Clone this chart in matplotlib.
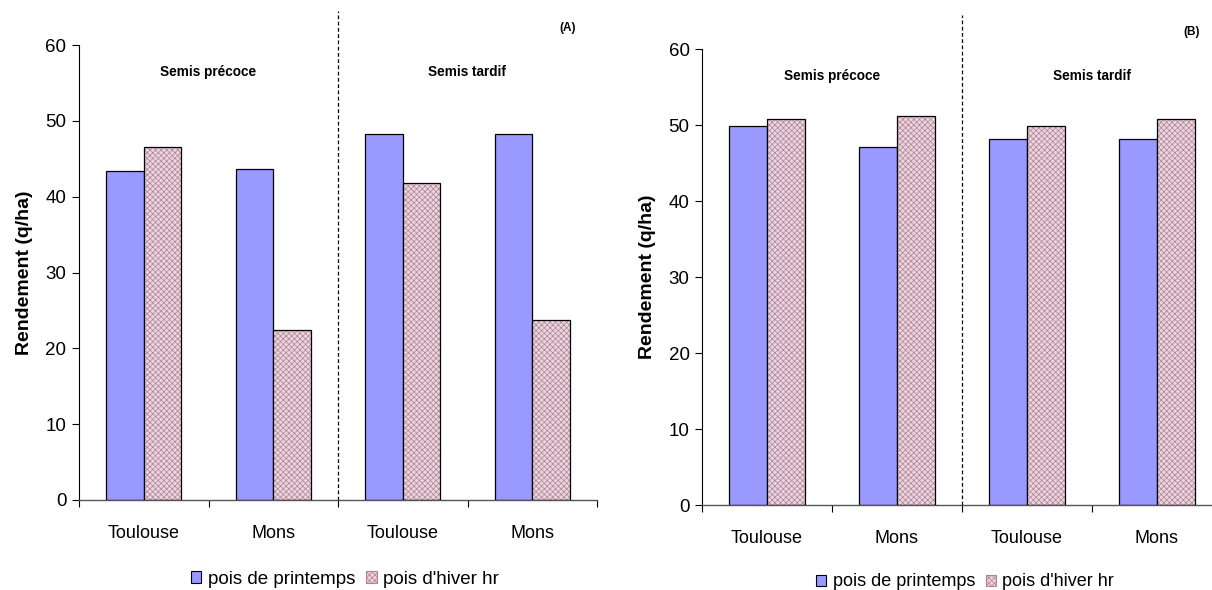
import matplotlib
matplotlib.use("Agg")
import matplotlib.pyplot as plt
import numpy as np
from matplotlib.patches import Patch

plt.rcParams['font.family'] = ['Liberation Sans', 'DejaVu Sans']
plt.rcParams['hatch.linewidth'] = 0.5

categories = ["Toulouse", "Mons", "Toulouse", "Mons"]
groups = ["Semis précoce", "Semis tardif"]
series_names = ["pois de printemps", "pois d'hiver hr"]

A_printemps = [43.4, 43.6, 48.2, 48.2]
A_hiver = [46.5, 22.4, 41.8, 23.7]
B_printemps = [49.9, 47.1, 48.1, 48.1]
B_hiver = [50.8, 51.2, 49.9, 50.8]
yticks = [0, 10, 20, 30, 40, 50, 60]

BLUE = '#9999FF'
HFACE = '#e6d6dd'
HCOL = '#b87f96'

W, H = 1212, 590
fig = plt.figure(figsize=(W / 100, H / 100), dpi=100)

def panel(rect, p, h, tag, legend_y, legend_x, legend_fs):
    ax = fig.add_axes(rect)
    x = np.arange(len(categories))
    bw = 0.29
    ax.bar(x - bw / 2, p, bw, color=BLUE, edgecolor='black', linewidth=0.9, zorder=2)
    ax.bar(x + bw / 2, h, bw, color=HFACE, edgecolor=HCOL, hatch='xxxxxx', linewidth=0, zorder=2)
    ax.bar(x + bw / 2, h, bw, fill=False, edgecolor='black', linewidth=0.9, zorder=3)
    ax.set_xlim(-0.5, 3.5)
    ax.set_ylim(0, 60)
    ax.set_yticks(yticks)
    ax.tick_params(axis='y', labelsize=13.5, direction='out', length=5, width=0.8, pad=4)
    ax.set_xticks([-0.5, 0.5, 1.5, 2.5, 3.5])
    ax.set_xticklabels([])
    ax.tick_params(axis='x', direction='out', length=5, width=0.8)
    for i, c in enumerate(categories):
        ax.text(i, -3.3, c, ha='center', va='top', fontsize=13)
    for s in ['top', 'right']:
        ax.spines[s].set_visible(False)
    ax.spines['left'].set_color('black')
    ax.spines['bottom'].set_color('#555555')
    ax.spines['left'].set_linewidth(0.8)
    ax.spines['bottom'].set_linewidth(1.0)
    ax.set_ylabel("Rendement (q/ha)", fontsize=14, fontweight='bold', labelpad=9)
    ax.plot([1.5, 1.5], [0, 64.5], linestyle=(0, (3, 2)), color='black', linewidth=0.9,
            clip_on=False, zorder=1)
    ax.text(0.5, 56.5, groups[0], ha='center', va='center', fontsize=9.8, fontweight='bold')
    ax.text(2.5, 56.5, groups[1], ha='center', va='center', fontsize=9.8, fontweight='bold')
    ax.text(3.27, 62.3, tag, ha='center', va='center', fontsize=8.5, fontweight='bold')
    handles = [Patch(facecolor=BLUE, edgecolor='black', linewidth=0.8),
               Patch(facecolor=HFACE, edgecolor=HCOL, hatch='xxxxxx', linewidth=0.8)]
    fig.legend(handles, series_names, loc='center', bbox_to_anchor=(legend_x, legend_y),
               ncol=2, frameon=False, fontsize=legend_fs, handlelength=0.55, handleheight=0.55,
               handletextpad=0.35, columnspacing=0.6)
    return ax

panel([79 / W, 1 - 500 / H, 518 / W, 455 / H], A_printemps, A_hiver, "(A)", 1 - 579 / H, 345 / W, 13.5)
panel([702 / W, 1 - 505 / H, 520 / W, 456 / H], B_printemps, B_hiver, "(B)", 1 - 582 / H, 965 / W, 13)

fig.savefig("out.png", dpi=100)
